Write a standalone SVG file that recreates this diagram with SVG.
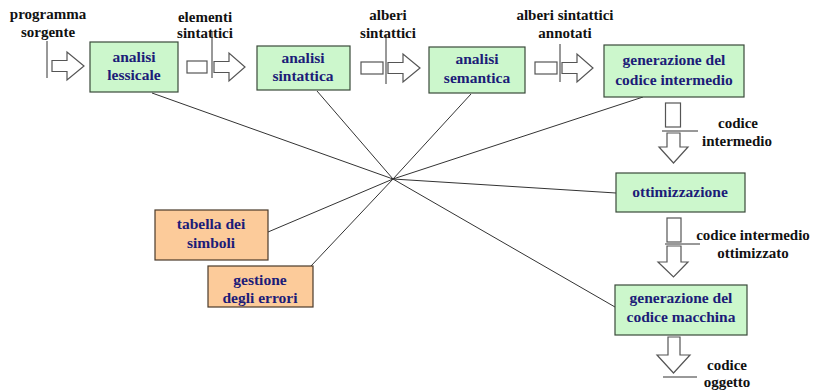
<svg xmlns="http://www.w3.org/2000/svg" width="814" height="390" viewBox="0 0 814 390">
<style>
.g{fill:#ccf7cc;stroke:#3a4a3a;stroke-width:1.2}
.o{fill:#fccb9a;stroke:#4a3a2a;stroke-width:1.2}
text{font-family:'Liberation Serif','Times New Roman','DejaVu Serif',serif;font-weight:bold}
.bt{font-size:15.5px;fill:#1c1c78;text-anchor:middle}
.lt{font-size:15px;fill:#111;text-anchor:middle}
.ar{fill:#fff;stroke:#555;stroke-width:1.2}
.ln{stroke:#333;stroke-width:1;fill:none}
</style>
<rect width="814" height="390" fill="#fff"/>
<g id="connectors">
<line class="ln" x1="393" y1="179" x2="152" y2="93"/>
<line class="ln" x1="393" y1="179" x2="317" y2="91"/>
<line class="ln" x1="393" y1="179" x2="471" y2="94"/>
<line class="ln" x1="393" y1="179" x2="643" y2="97"/>
<line class="ln" x1="393" y1="179" x2="616" y2="193"/>
<line class="ln" x1="393" y1="179" x2="615" y2="307"/>
<line class="ln" x1="393" y1="179" x2="268" y2="232"/>
<line class="ln" x1="393" y1="179" x2="311" y2="266"/>
</g>
<g id="flow1">
<text class="lt" x="48" y="19">programma</text>
<text class="lt" x="48" y="37">sorgente</text>
<line class="ln" x1="47" y1="41" x2="47" y2="78"/>
<polygon class="ar" points="52,60.5 67,60.5 67,52 84,66 67,80 67,71.5 52,71.5"/>
</g>
<g id="flow2">
<text class="lt" x="205" y="22">elementi</text>
<text class="lt" x="205" y="38">sintattici</text>
<rect class="ar" x="187" y="61" width="20" height="12"/>
<line class="ln" x1="212" y1="32" x2="212" y2="78"/>
<polygon class="ar" points="214,61.5 229,61.5 229,53 245,67 229,81 229,72.5 214,72.5"/>
</g>
<g id="flow3">
<text class="lt" x="388" y="20">alberi</text>
<text class="lt" x="388" y="38">sintattici</text>
<rect class="ar" x="361" y="62" width="22" height="12"/>
<line class="ln" x1="386" y1="34" x2="386" y2="84"/>
<polygon class="ar" points="388,62.5 403,62.5 403,54 420,68 403,82 403,73.5 388,73.5"/>
</g>
<g id="flow4">
<text class="lt" x="565" y="20">alberi sintattici</text>
<text class="lt" x="565" y="38">annotati</text>
<rect class="ar" x="535" y="62" width="22" height="12"/>
<line class="ln" x1="560" y1="44" x2="560" y2="82"/>
<polygon class="ar" points="562,62.5 577,62.5 577,54 593,68 577,82 577,73.5 562,73.5"/>
</g>
<g id="flow5">
<rect class="ar" x="665.5" y="103" width="15" height="24"/>
<line class="ln" x1="662" y1="131" x2="698" y2="131"/>
<polygon class="ar" points="667,133 680,133 680,147 688,147 673.5,163 659,147 667,147"/>
<text class="lt" x="738" y="128">codice</text>
<text class="lt" x="737" y="146">intermedio</text>
</g>
<g id="flow6">
<rect class="ar" x="667" y="218" width="14" height="24"/>
<line class="ln" x1="665" y1="244" x2="700" y2="244"/>
<polygon class="ar" points="667,246 681,246 681,262 688,262 673.5,277 658,262 667,262"/>
<text class="lt" x="753" y="240">codice intermedio</text>
<text class="lt" x="753" y="258">ottimizzato</text>
</g>
<g id="flow7">
<polygon class="ar" points="668,337 680,337 680,355 690,355 673.5,373 657,355 668,355"/>
<line class="ln" x1="663" y1="377" x2="697" y2="377"/>
<text class="lt" x="727" y="370">codice</text>
<text class="lt" x="727" y="387">oggetto</text>
</g>
<g id="lessicale">
<rect class="g" x="90" y="42" width="88" height="50"/>
<text class="bt" x="134" y="62">analisi</text>
<text class="bt" x="134" y="80">lessicale</text>
</g>
<g id="sintattica">
<rect class="g" x="257" y="46" width="93" height="44"/>
<text class="bt" x="303" y="63">analisi</text>
<text class="bt" x="303" y="81">sintattica</text>
</g>
<g id="semantica">
<rect class="g" x="429" y="47" width="96" height="46"/>
<text class="bt" x="477" y="64">analisi</text>
<text class="bt" x="477" y="83">semantica</text>
</g>
<g id="intermedio">
<rect class="g" x="604" y="45" width="140" height="52"/>
<text class="bt" x="674" y="65">generazione del</text>
<text class="bt" x="674" y="85">codice intermedio</text>
</g>
<g id="ottimizzazione">
<rect class="g" x="616" y="173" width="129" height="39"/>
<text class="bt" x="680" y="197">ottimizzazione</text>
</g>
<g id="macchina">
<rect class="g" x="615" y="285" width="132" height="50"/>
<text class="bt" x="681" y="303">generazione del</text>
<text class="bt" x="681" y="322">codice macchina</text>
</g>
<g id="simboli">
<rect class="o" x="155" y="210" width="113" height="50"/>
<text class="bt" x="211" y="229">tabella dei</text>
<text class="bt" x="211" y="248">simboli</text>
</g>
<g id="errori">
<rect class="o" x="208" y="266" width="105" height="41"/>
<text class="bt" x="260" y="285">gestione</text>
<text class="bt" x="260" y="303">degli errori</text>
</g>
</svg>
